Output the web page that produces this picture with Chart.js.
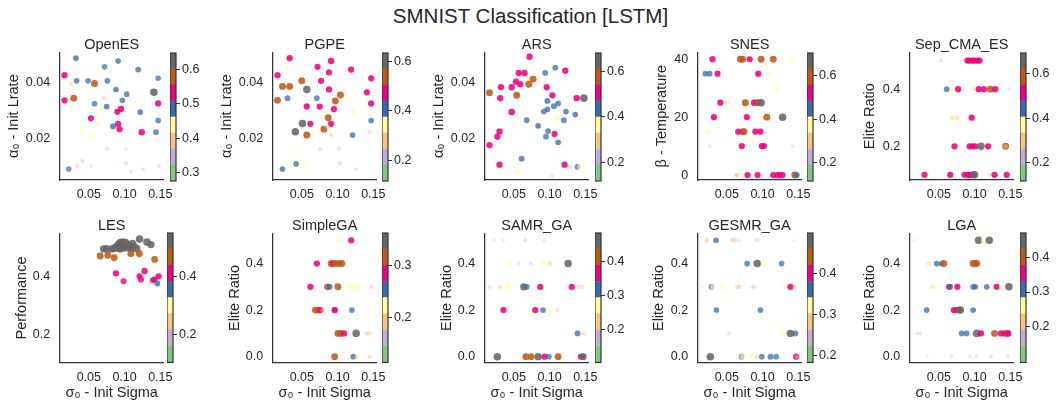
<!DOCTYPE html>
<html>
<head>
<meta charset="utf-8">
<script src="https://cdn.jsdelivr.net/npm/chart.js@4.4.1/dist/chart.umd.min.js"></script>
<style>
  body { margin: 0; background: #fff; }
  #page { position: relative; width: 1061px; height: 405px; overflow: hidden; }
  #page canvas { position: absolute; }
  #suptitle {
    position: absolute; left: 0; top: 4px; width: 1061px; text-align: center;
    font: 20.5px "Liberation Sans", Arial, sans-serif; line-height: 24px; color: #262626;
  }
</style>
</head>
<body>
<div id="page">
  <div id="suptitle">SMNIST Classification [LSTM]</div>
</div>
<script>
// tick labels
const sigmaTicks = [0.05, 0.10, 0.15];
const lrateTicks = [0.02, 0.04];
const tempTicks = [0, 20, 40];
const sepEliteTicks = [0.2, 0.4];
const perfTicks = [0.2, 0.4];
const eliteTicks = [0.0, 0.2, 0.4];

// OpenES
const openesSigma = [0.032,0.091,0.072,0.119,0.016,0.033,0.049,0.058,0.076,0.147,0.025,0.088,0.103,0.141,0.029,0.016,0.071,0.058,0.097,0.075,0.095,0.090,0.147,0.122,0.053,0.062,0.147,0.091,0.084,0.093,0.040,0.056,0.124,0.144,0.076,0.102,0.022,0.034,0.041,0.053,0.102,0.109,0.126,0.148];
const openesLrate = [0.0486,0.0476,0.0455,0.0445,0.0425,0.0405,0.0405,0.0395,0.0405,0.0414,0.0395,0.0374,0.0357,0.0364,0.0343,0.0335,0.0343,0.0323,0.0335,0.0313,0.0304,0.0294,0.0324,0.0293,0.0271,0.0252,0.0263,0.0251,0.0242,0.0232,0.0223,0.0211,0.0221,0.0221,0.0161,0.0161,0.0089,0.0100,0.0118,0.0100,0.0109,0.0080,0.0089,0.0100];
const openesPerf = [0.487,0.482,0.478,0.490,0.532,0.486,0.481,0.585,0.489,0.476,0.392,0.483,0.488,0.632,0.576,0.527,0.386,0.479,0.484,0.487,0.536,0.529,0.531,0.491,0.524,0.438,0.482,0.530,0.505,0.528,0.433,0.437,0.541,0.486,0.388,0.345,0.473,0.384,0.392,0.348,0.390,0.336,0.340,0.344];
const openesCbar = [0.3, 0.4, 0.5, 0.6];

// PGPE
const pgpeSigma = [0.033,0.072,0.091,0.119,0.088,0.016,0.147,0.050,0.077,0.023,0.033,0.057,0.088,0.141,0.104,0.030,0.071,0.016,0.097,0.147,0.057,0.075,0.095,0.122,0.087,0.147,0.051,0.062,0.091,0.081,0.085,0.041,0.057,0.091,0.121,0.145,0.076,0.102,0.042,0.042,0.023,0.035,0.052,0.103,0.126];
const pgpeLrate = [0.0486,0.0455,0.0476,0.0445,0.0435,0.0425,0.0414,0.0405,0.0405,0.0385,0.0385,0.0374,0.0374,0.0364,0.0354,0.0343,0.0343,0.0335,0.0333,0.0324,0.0313,0.0313,0.0304,0.0293,0.0273,0.0263,0.0252,0.0251,0.0251,0.0232,0.0240,0.0223,0.0211,0.0211,0.0211,0.0221,0.0161,0.0161,0.0120,0.0108,0.0089,0.0100,0.0100,0.0109,0.0089];
const pgpePerf = [0.472,0.468,0.476,0.470,0.465,0.474,0.469,0.538,0.471,0.541,0.536,0.598,0.473,0.467,0.545,0.412,0.405,0.539,0.533,0.470,0.475,0.468,0.472,0.352,0.537,0.408,0.602,0.466,0.470,0.540,0.283,0.596,0.543,0.278,0.414,0.215,0.281,0.221,0.348,0.406,0.410,0.344,0.351,0.286,0.205];
const pgpeCbar = [0.2, 0.4, 0.6];

// ARS
const arsSigma = [0.072,0.108,0.122,0.094,0.057,0.065,0.070,0.077,0.053,0.059,0.071,0.032,0.047,0.096,0.016,0.054,0.104,0.031,0.138,0.148,0.097,0.112,0.106,0.097,0.092,0.123,0.047,0.136,0.111,0.068,0.120,0.084,0.098,0.030,0.027,0.095,0.107,0.112,0.016,0.061,0.030,0.121,0.129,0.139,0.142,0.055,0.104];
const arsLrate = [0.0491,0.0452,0.0441,0.0433,0.0433,0.0433,0.0411,0.0411,0.0402,0.0393,0.0393,0.0382,0.0382,0.0382,0.0362,0.0353,0.0353,0.0343,0.0343,0.0343,0.0333,0.0324,0.0314,0.0303,0.0295,0.0295,0.0293,0.0284,0.0274,0.0264,0.0264,0.0244,0.0225,0.0224,0.0205,0.0205,0.0215,0.0185,0.0175,0.0126,0.0105,0.0105,0.0097,0.0097,0.0097,0.0076,0.0065];
const arsPerf = [0.512,0.442,0.508,0.438,0.505,0.510,0.365,0.578,0.506,0.511,0.583,0.503,0.509,0.504,0.576,0.581,0.507,0.502,0.513,0.652,0.441,0.437,0.444,0.439,0.436,0.443,0.532,0.440,0.372,0.438,0.442,0.445,0.441,0.509,0.505,0.437,0.503,0.439,0.510,0.445,0.506,0.508,0.295,0.436,0.362,0.355,0.225];
const arsCbar = [0.2, 0.4, 0.6];

// SNES
const snesSigma = [0.030,0.069,0.072,0.082,0.098,0.115,0.141, 0.020,0.026,0.037,0.094,0.110, 0.119, 0.041,0.050,0.076,0.088,0.092,0.094,0.098, 0.032,0.078,0.099,0.106,0.128, 0.024,0.066,0.072,0.074,0.090,0.097, 0.026,0.071,0.099,0.102,0.142, 0.063,0.065,0.079,0.093,0.115,0.121,0.124,0.128,0.145,0.148];
const snesTemp = [40,40,40,40,40,40,40, 35,35,35,35,35, 30, 25,25,25,25,25,25,25, 20,20,20,20,20, 15,15,15,15,15,15, 10,10,10,10,10, 0,0,0,0,0,0,0,0,0,0];
const snesPerf = [0.520,0.595,0.590,0.515,0.600,0.592,0.370, 0.450,0.452,0.518,0.521,0.365, 0.372, 0.520,0.300,0.596,0.522,0.517,0.598,0.670, 0.519,0.520,0.370,0.593,0.672, 0.368,0.520,0.523,0.591,0.516,0.520, 0.230,0.524,0.520,0.518,0.225, 0.300,0.305,0.520,0.519,0.521,0.522,0.518,0.520,0.597,0.455];
const snesCbar = [0.2, 0.4, 0.6];

// Sep_CMA_ES
const sepcmaSigma = [0.053,0.090,0.093,0.097,0.100,0.104,0.107, 0.061,0.070,0.077,0.100,0.106,0.113,0.122,0.129,0.148, 0.069,0.072,0.076,0.096, 0.072,0.093,0.097,0.101,0.109,0.119,0.1435,0.1435, 0.030,0.066,0.086,0.091,0.093,0.096,0.098,0.100,0.122,0.128,0.145];
const sepcmaElite = [0.5,0.5,0.5,0.5,0.5,0.5,0.5, 0.4,0.4,0.4,0.4,0.4,0.4,0.4,0.4,0.4, 0.3,0.3,0.3,0.3, 0.2,0.2,0.2,0.2,0.2,0.2,0.2,0.2, 0.1,0.1,0.1,0.1,0.1,0.1,0.1,0.1,0.1,0.1,0.1];
const sepcmaPerf = [0.300,0.510,0.512,0.508,0.515,0.510,0.513, 0.440,0.370,0.510,0.300,0.512,0.509,0.585,0.511,0.220, 0.300,0.370,0.300,0.510, 0.512,0.510,0.508,0.514,0.660,0.511,0.590,0.300, 0.510,0.512,0.510,0.513,0.509,0.511,0.515,0.662,0.300,0.510,0.512];
const sepcmaCbar = [0.2, 0.4, 0.6];

// LES (colour is the performance itself)
const lesSigma = [0.0706,0.0752,0.0822,0.0869,0.0893,0.0916,0.0939,0.0977,0.1014,0.1047,0.1079,0.0995,0.0939,0.1112,0.1140,0.1173,0.1210,0.1313,0.1369,0.0850,0.0980,0.1050,0.0920,0.1100, 0.0659,0.0766,0.0855,0.1089,0.1206,0.1421, 0.0879,0.0986,0.1210,0.1229,0.1280,0.1397,0.1421,0.1477, 0.1458];
const lesPerf = [0.496,0.497,0.496,0.501,0.506,0.512,0.518,0.520,0.518,0.511,0.504,0.499,0.496,0.515,0.504,0.497,0.530,0.520,0.511,0.498,0.505,0.500,0.498,0.497, 0.472,0.474,0.466,0.480,0.480,0.460, 0.412,0.385,0.402,0.391,0.420,0.388,0.391,0.402, 0.377];
const lesCbar = [0.2, 0.4];

// SimpleGA
const simplegaSigma = [0.104,0.119, 0.071,0.091,0.094,0.097,0.102,0.106, 0.062,0.086,0.089,0.1005,0.116,0.121,0.125,0.129,0.147, 0.069,0.073,0.076,0.079,0.096,0.096,0.120, 0.1005,0.104,0.109,0.126,0.141,0.145, 0.096,0.122,0.126,0.145];
const simplegaElite = [0.5,0.5, 0.4,0.4,0.4,0.4,0.4,0.4, 0.3,0.3,0.3,0.3,0.3,0.3,0.3,0.3,0.3, 0.2,0.2,0.2,0.2,0.2,0.2,0.2, 0.1,0.1,0.1,0.1,0.1,0.1, 0.0,0.0,0.0,0.0];
const simplegaPerf = [0.220,0.285, 0.285,0.315,0.287,0.318,0.312,0.316, 0.284,0.314,0.255,0.317,0.220,0.218,0.222,0.219,0.190, 0.313,0.318,0.286,0.190,0.256,0.288,0.254, 0.316,0.312,0.287,0.350,0.190,0.188, 0.315,0.256,0.190,0.191];
const simplegaCbar = [0.2, 0.3];

// SAMR_GA
const samrSigma = [0.022,0.035,0.066,0.092, 0.0435,0.057,0.074,0.091,0.1005,0.126, 0.016,0.031,0.040,0.0435,0.064,0.068,0.087,0.131,0.140,0.145, 0.0355,0.080,0.091,0.098,0.111, 0.139,0.147, 0.027,0.067,0.071,0.074,0.084,0.093,0.099,0.112,0.144,0.147,0.147];
const samrElite = [0.5,0.5,0.5,0.5, 0.4,0.4,0.4,0.4,0.4,0.4, 0.3,0.3,0.3,0.3,0.3,0.3,0.3,0.3,0.3,0.3, 0.2,0.2,0.2,0.2,0.2, 0.1,0.1, 0.0,0.0,0.0,0.0,0.0,0.0,0.0,0.0,0.0,0.0,0.0];
const samrPerf = [0.160,0.165,0.170,0.162, 0.270,0.170,0.168,0.272,0.220,0.462, 0.220,0.222,0.270,0.268,0.450,0.320,0.365,0.368,0.220,0.218, 0.366,0.364,0.322,0.270,0.220, 0.318,0.220, 0.460,0.410,0.220,0.412,0.455,0.367,0.320,0.410,0.366,0.410,0.322];
const samrCbar = [0.2, 0.3, 0.4];

// GESMR_GA
const gesmrSigma = [0.022,0.035,0.0575,0.061,0.067,0.092,0.1435, 0.0785,0.0925,0.1014,0.1266, 0.016,0.0285,0.030,0.0425,0.064,0.067,0.0855,0.088,0.132,0.139,0.145, 0.0355,0.097, 0.053,0.1285,0.139,0.146, 0.027,0.0706,0.0715,0.0855,0.092,0.099,0.111,0.119,0.147,0.148];
const gesmrElite = [0.5,0.5,0.5,0.5,0.5,0.5,0.5, 0.4,0.4,0.4,0.4, 0.3,0.3,0.3,0.3,0.3,0.3,0.3,0.3,0.3,0.3,0.3, 0.2,0.2, 0.1,0.1,0.1,0.1, 0.0,0.0,0.0,0.0,0.0,0.0,0.0,0.0,0.0,0.0];
const gesmrPerf = [0.280,0.360,0.280,0.285,0.240,0.280,0.200, 0.360,0.480,0.320,0.362, 0.200,0.360,0.320,0.322,0.280,0.282,0.240,0.280,0.320,0.400,0.280, 0.360,0.362, 0.280,0.320,0.478,0.360, 0.480,0.360,0.320,0.320,0.280,0.360,0.362,0.358,0.400,0.280];
const gesmrCbar = [0.2, 0.3, 0.4];

// LGA
const lgaSigma = [0.016,0.1056,0.112,0.1206, 0.036,0.047,0.054,0.057,0.096,0.098,0.1005,0.103, 0.041,0.043,0.0645,0.066,0.076,0.098,0.101,0.117,0.131,0.138,0.148, 0.033,0.071,0.075,0.0785,0.080,0.098, 0.020,0.024,0.082,0.089,0.103,0.109,0.128,0.137,0.142,0.146,0.147, 0.034,0.068,0.0935,0.102,0.123,0.147];
const lgaElite = [0.5,0.5,0.5,0.5, 0.4,0.4,0.4,0.4,0.4,0.4,0.4,0.4, 0.3,0.3,0.3,0.3,0.3,0.3,0.3,0.3,0.3,0.3,0.3, 0.2,0.2,0.2,0.2,0.2,0.2, 0.1,0.1,0.1,0.1,0.1,0.1,0.1,0.1,0.1,0.1,0.1, 0.0,0.0,0.0,0.0,0.0,0.0];
const lgaPerf = [0.120,0.450,0.260,0.452, 0.210,0.310,0.312,0.400,0.210,0.400,0.405,0.398, 0.210,0.260,0.355,0.310,0.356,0.310,0.312,0.308,0.354,0.260,0.450, 0.310,0.355,0.356,0.400,0.448,0.310, 0.165,0.165,0.310,0.312,0.450,0.355,0.400,0.356,0.354,0.400,0.355, 0.120,0.165,0.168,0.165,0.170,0.165];
const lgaCbar = [0.2, 0.3, 0.4];

// matplotlib "Accent"
const accent = ['#7fc97f', '#beaed4', '#fdc086', '#ffff99', '#386cb0', '#f0027f', '#bf5b17', '#666666'];

const panels = [
  { name: 'OpenES', row: 0, col: 0, x: openesSigma, y: openesLrate, v: openesPerf, ylabel: 'α₀ - Init Lrate', yr: [0.005, 0.0507], yt: lrateTicks, yd: 2, ylx: 14, cr: [0.276, 0.647], ct: openesCbar },
  { name: 'PGPE', row: 0, col: 1, x: pgpeSigma, y: pgpeLrate, v: pgpePerf, ylabel: 'α₀ - Init Lrate', yr: [0.005, 0.0507], yt: lrateTicks, yd: 2, ylx: 14, cr: [0.116, 0.634], ct: pgpeCbar },
  { name: 'ARS', row: 0, col: 2, x: arsSigma, y: arsLrate, v: arsPerf, ylabel: 'α₀ - Init Lrate', yr: [0.005, 0.0507], yt: lrateTicks, yd: 2, ylx: 14, cr: [0.12, 0.679], ct: arsCbar },
  { name: 'SNES', row: 0, col: 3, x: snesSigma, y: snesTemp, v: snesPerf, ylabel: 'β - Temperature', yr: [-1.7, 42.4], yt: tempTicks, yd: 0, ylx: 23.5, cr: [0.115, 0.706], ct: snesCbar },
  { name: 'Sep_CMA_ES', row: 0, col: 4, x: sepcmaSigma, y: sepcmaElite, v: sepcmaPerf, ylabel: 'Elite Ratio', yr: [0.082, 0.529], yt: sepEliteTicks, yd: 1, ylx: 20, cr: [0.117, 0.693], ct: sepcmaCbar },
  { name: 'LES', row: 1, col: 0, x: lesSigma, y: lesPerf, v: lesPerf, ylabel: 'Performance', yr: [0.104, 0.55], yt: perfTicks, yd: 1, ylx: 22, cr: [0.106, 0.548], ct: lesCbar, cbx: 166.7 },
  { name: 'SimpleGA', row: 1, col: 1, x: simplegaSigma, y: simplegaElite, v: simplegaPerf, ylabel: 'Elite Ratio', yr: [-0.026, 0.53], yt: eliteTicks, yd: 1, ylx: 21.7, cr: [0.113, 0.363], ct: simplegaCbar },
  { name: 'SAMR_GA', row: 1, col: 2, x: samrSigma, y: samrElite, v: samrPerf, ylabel: 'Elite Ratio', yr: [-0.026, 0.53], yt: eliteTicks, yd: 1, ylx: 21.5, cr: [0.104, 0.483], ct: samrCbar },
  { name: 'GESMR_GA', row: 1, col: 3, x: gesmrSigma, y: gesmrElite, v: gesmrPerf, ylabel: 'Elite Ratio', yr: [-0.026, 0.53], yt: eliteTicks, yd: 1, ylx: 21, cr: [0.183, 0.50], ct: gesmrCbar },
  { name: 'LGA', row: 1, col: 4, x: lgaSigma, y: lgaElite, v: lgaPerf, ylabel: 'Elite Ratio', yr: [-0.026, 0.53], yt: eliteTicks, yd: 1, ylx: 20, cr: [0.096, 0.471], ct: lgaCbar }
];

Chart.defaults.font.family = '"Liberation Sans", Arial, sans-serif';
Chart.defaults.color = '#262626';

function rgba(hex, a) {
  const n = parseInt(hex.slice(1), 16);
  return `rgba(${(n >> 16) & 255}, ${(n >> 8) & 255}, ${n & 255}, ${a})`;
}

// stroke a box round the colorbar
const cbarFrame = {
  id: 'cbarFrame',
  afterDraw(chart) {
    const a = chart.chartArea;
    const ctx = chart.ctx;
    ctx.save();
    ctx.strokeStyle = '#333';
    ctx.lineWidth = 1.2;
    ctx.strokeRect(a.left, a.top, a.right - a.left, a.bottom - a.top);
    ctx.restore();
  }
};

const page = document.getElementById('page');

function addCanvas(left, top, w, h) {
  const c = document.createElement('canvas');
  c.width = w;
  c.height = h;
  c.style.left = left + 'px';
  c.style.top = top + 'px';
  page.appendChild(c);
  return c;
}

function drawPanel(p) {
  const cellLeft = p.col * 212.5;
  const top = p.row === 0 ? 30 : 211;
  const h = p.row === 0 ? 172 : 194;
  const [lo, hi] = p.cr;

  // colour, size and alpha follow the performance value
  const colors = [], radii = [];
  p.v.forEach(v => {
    const t = Math.min(Math.max((v - lo) / (hi - lo), 0), 0.999);
    const k = Math.floor(t * 8);
    colors.push(rgba(accent[k], Math.min(0.1 + 1.15 * t, 0.88)));
    radii.push(1.5 + 2.4 * t);
  });

  new Chart(addCanvas(cellLeft, top, 180, h), {
    type: 'scatter',
    data: {
      datasets: [{
        data: p.x.map((x, i) => ({ x: x, y: p.y[i] })),
        pointBackgroundColor: colors,
        pointRadius: radii,
        pointHoverRadius: radii,
        pointBorderWidth: 0
      }]
    },
    options: {
      responsive: false,
      animation: false,
      events: [],
      layout: { padding: { left: 0, right: 16.3, top: 7.8, bottom: 0 } },
      plugins: {
        legend: { display: false },
        tooltip: { enabled: false },
        title: {
          display: true, text: p.name, align: 'center', fullSize: false,
          font: { size: 14.5, weight: 'normal', lineHeight: 1 }, padding: { top: 0, bottom: 0 }
        }
      },
      scales: {
        x: {
          type: 'linear', min: 0.0093, max: 0.1547,
          grid: { display: false, drawTicks: false },
          border: { color: '#333', width: 1.25 },
          afterBuildTicks: s => { s.ticks = sigmaTicks.map(v => ({ value: v })); },
          afterFit: s => { s.height = p.row === 0 ? 22 : 42.3; },
          ticks: { padding: 7, font: { size: 12.5 }, maxRotation: 0, autoSkip: false, callback: v => v.toFixed(2) },
          title: { display: p.row === 1, text: 'σ₀ - Init Sigma', font: { size: 14.5, lineHeight: 1 }, padding: { top: 0, bottom: 4.45 } }
        },
        y: {
          type: 'linear', min: p.yr[0], max: p.yr[1],
          grid: { display: false, drawTicks: false },
          border: { color: '#333', width: 1.25 },
          afterBuildTicks: s => { s.ticks = p.yt.map(v => ({ value: v })); },
          afterFit: s => { s.width = 59.7; },
          ticks: { padding: 9.5, font: { size: 12.5 }, autoSkip: false, callback: v => v.toFixed(p.yd) },
          title: { display: true, text: p.ylabel, font: { size: 14.5, lineHeight: 1 }, padding: { top: p.ylx - 7.25, bottom: 0 } }
        }
      }
    }
  });

  // colorbar: 8 floating bars stacked over the value range
  const cbTop = p.row === 0 ? 52.7 : 233.3;
  const cbH = p.row === 0 ? 128 : 129.4;
  const step = (hi - lo) / 8;
  const cbx = p.cbx !== undefined ? p.cbx : 169.5;
  new Chart(addCanvas(cellLeft + cbx, cbTop - 13, 46.5, Math.round(cbH + 26)), {
    type: 'bar',
    data: {
      labels: [''],
      datasets: accent.map((c, k) => ({
        data: [[lo + k * step, lo + (k + 1) * step]],
        backgroundColor: c,
        grouped: false,
        barPercentage: 1,
        categoryPercentage: 1,
        borderWidth: 0
      }))
    },
    options: {
      responsive: false,
      animation: false,
      events: [],
      layout: { padding: { left: 0, right: 0, top: 13, bottom: Math.round(cbH + 26) - 13 - cbH } },
      plugins: { legend: { display: false }, tooltip: { enabled: false } },
      scales: {
        x: { display: false },
        y: {
          position: 'right', min: lo, max: hi,
          grid: { display: true, drawOnChartArea: false, drawTicks: true, tickLength: 4, color: '#333', lineWidth: 1 },
          border: { display: false },
          afterBuildTicks: s => { s.ticks = p.ct.map(v => ({ value: v })); },
          afterFit: s => { s.width = 40; },
          ticks: { padding: 2, font: { size: 12.5 }, autoSkip: false, callback: v => v.toFixed(1) }
        }
      }
    },
    plugins: [cbarFrame]
  });
}

panels.forEach(drawPanel);
</script>
</body>
</html>
